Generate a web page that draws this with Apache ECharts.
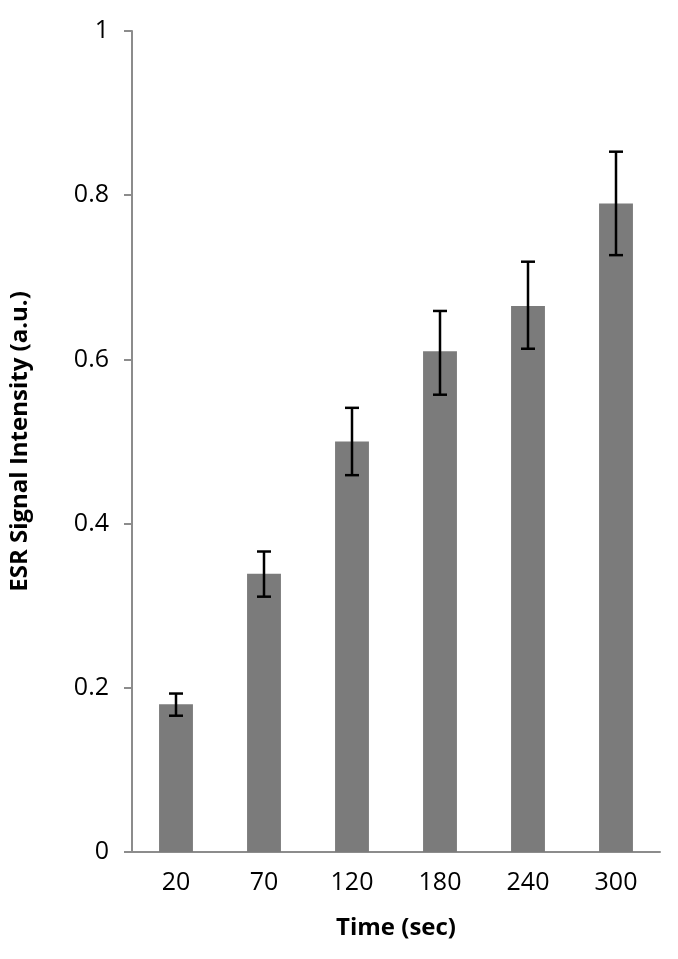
<!DOCTYPE html>
<html>
<head>
<meta charset="utf-8">
<script src="https://cdn.jsdelivr.net/npm/echarts@6/dist/echarts.min.js"></script>
<style>
  html, body { margin: 0; padding: 0; background: #fff; }
  #chart { width: 678px; height: 959px; }
</style>
</head>
<body>
<div id="chart"></div>
<script>
// time points (sec)
var categories = ['20', '70', '120', '180', '240', '300'];
// mean ESR signal intensity
var signal = [0.180, 0.339, 0.500, 0.610, 0.665, 0.790];
// error bar ends (low / high)
var errLow = [0.166, 0.311, 0.459, 0.557, 0.613, 0.727];
var errHigh = [0.193, 0.366, 0.541, 0.659, 0.719, 0.853];
var yTicks = [0, 0.2, 0.4, 0.6, 0.8, 1];

var font = '"Open Sans", "Liberation Sans", sans-serif';

var errData = categories.map(function (c, i) {
  return [i, errLow[i], errHigh[i]];
});

var myChart = echarts.init(document.getElementById('chart'));
myChart.setOption({
  animation: false,
  grid: { left: 131, right: 18, top: 31, bottom: 107 },
  xAxis: {
    type: 'category',
    data: categories,
    name: 'Time (sec)',
    nameLocation: 'middle',
    nameGap: 64,
    nameTextStyle: { fontFamily: font, fontSize: 24, fontWeight: 'bold', color: '#000' },
    axisLine: { lineStyle: { color: '#8c8c8c', width: 2 } },
    axisTick: { show: false },
    axisLabel: { fontFamily: font, fontSize: 25, color: '#000', margin: 18 }
  },
  yAxis: {
    type: 'value',
    min: 0,
    max: 1,
    interval: 0.2,
    name: 'ESR Signal Intensity (a.u.)',
    nameLocation: 'middle',
    nameGap: 100,
    nameRotate: 90,
    nameTextStyle: { fontFamily: font, fontSize: 24, fontWeight: 'bold', color: '#000' },
    splitLine: { show: false },
    axisLine: { show: true, lineStyle: { color: '#8c8c8c', width: 2 } },
    axisTick: { show: true, length: 8, lineStyle: { color: '#8c8c8c', width: 2 } },
    axisLabel: {
      fontFamily: font, fontSize: 25, color: '#000', margin: 23,
      formatter: function (v) {
        var t = yTicks.find(function (x) { return Math.abs(x - v) < 1e-9; });
        return t === undefined ? '' : String(t);
      }
    }
  },
  series: [{
    type: 'bar',
    data: signal,
    barWidth: '38.5%',
    itemStyle: { color: '#7b7b7b' }
  }, {
    type: 'custom',
    data: errData,
    z: 10,
    renderItem: function (params, api) {
      var lo = api.coord([api.value(0), api.value(1)]);
      var hi = api.coord([api.value(0), api.value(2)]);
      var hw = 7;
      var style = { stroke: '#000', lineWidth: 2.5 };
      return {
        type: 'group',
        children: [
          { type: 'line', shape: { x1: hi[0], y1: hi[1], x2: lo[0], y2: lo[1] }, style: style },
          { type: 'line', shape: { x1: hi[0] - hw, y1: hi[1], x2: hi[0] + hw, y2: hi[1] }, style: style },
          { type: 'line', shape: { x1: lo[0] - hw, y1: lo[1], x2: lo[0] + hw, y2: lo[1] }, style: style }
        ]
      };
    }
  }]
});
window.addEventListener('resize', function () { myChart.resize(); });
</script>
</body>
</html>
